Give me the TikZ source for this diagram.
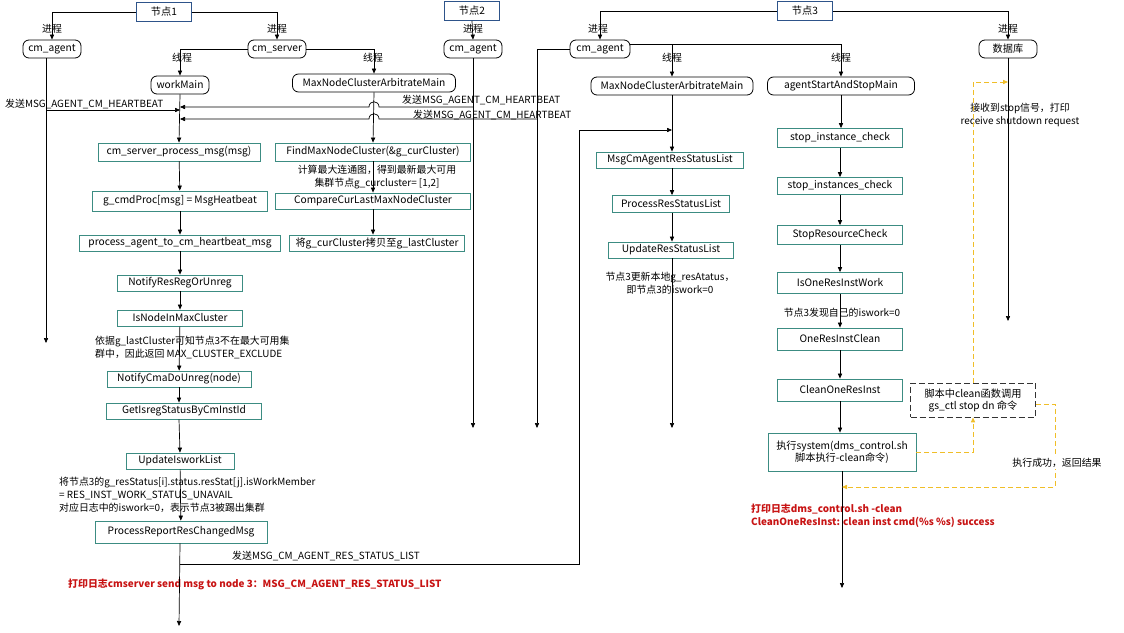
\documentclass[tikz,border=0pt]{standalone}
\usepackage{fontspec}
\setmainfont{Noto Sans CJK SC}
\usepackage{xcolor}
\usetikzlibrary{arrows.meta,positioning,calc}
\definecolor{hostblue}{RGB}{46,84,138}
\definecolor{functeal}{RGB}{60,140,130}
\definecolor{logred}{RGB}{200,20,20}
\definecolor{yelline}{RGB}{240,190,40}
\newcommand{\boxfont}{\fontsize{10.2}{12}\selectfont}
\newcommand{\lblfont}{\fontsize{9.9}{13}\selectfont}
\tikzset{
  >={Triangle[length=5pt,width=4.2pt]},
  hostbox/.style ={rectangle, draw=hostblue, line width=0.8pt, minimum width=55,
                   minimum height=19, inner sep=1pt, font=\boxfont},
  procbox/.style ={rectangle, rounded corners=6pt, draw, line width=0.8pt,
                   minimum height=18, inner sep=1pt, font=\boxfont},
  funcbox/.style ={rectangle, draw=functeal, line width=0.8pt, minimum height=16,
                   inner sep=1pt, font=\boxfont, fill=white},
  scriptbox/.style={rectangle, draw=black!80, line width=0.8pt,
                   dash pattern=on 6pt off 3pt, inner sep=1pt, font=\boxfont,
                   align=center},
  con/.style     ={->, draw, line width=0.7pt},
  yel/.style     ={->, draw=yelline, line width=0.9pt, dash pattern=on 5pt off 3pt},
  lbl/.style     ={font=\lblfont, inner sep=0pt, align=center},
  redlbl/.style  ={font=\lblfont\bfseries, text=logred, inner sep=0pt, align=left},
}

\begin{document}
\begin{tikzpicture}[x=1pt,y=-1pt]
\useasboundingbox[fill=white] (0,0) rectangle (1124,632);

% hosts and processes
\node[hostbox] (n1) at (164,12) {节点1};
\node[hostbox] (n2) at (472,11) {节点2};
\node[hostbox] (n3) at (805,11) {节点3};
\node[procbox, minimum width=58] (a1)  at (52,49)   {cm\_agent};
\node[procbox, minimum width=58] (srv) at (277,49)  {cm\_server};
\node[procbox, minimum width=58] (a2)  at (473,49)  {cm\_agent};
\node[procbox, minimum width=60] (a3)  at (600,49)  {cm\_agent};
\node[procbox, minimum width=58] (db)  at (1008,49) {数据库};
\node[lbl] (pj1) at (52,29)   {进程};
\node[lbl] (pj2) at (277,29)  {进程};
\node[lbl] (pj3) at (473,29)  {进程};
\node[lbl] (pj4) at (598,29)  {进程};
\node[lbl] (pj5) at (1008,29) {进程};

% threads
\node[procbox, minimum width=58]  (wm)  at (180,85) {workMain};
\node[procbox, minimum width=163] (mx1) at (374,83) {MaxNodeClusterArbitrateMain};
\node[procbox, minimum width=162] (mx3) at (672,86) {MaxNodeClusterArbitrateMain};
\node[procbox, minimum width=147] (ass) at (841,86) {agentStartAndStopMain};
\node[lbl] (tj1) at (182,58) {线程};
\node[lbl] (tj2) at (373,58) {线程};
\node[lbl] (tj3) at (672,58) {线程};
\node[lbl] (tj4) at (841,58) {线程};

% cm_server workMain
\node[funcbox, minimum width=162, minimum height=18] (f1) at (179,152) {cm\_server\_process\_msg(msg)};
\node[funcbox, minimum width=175, minimum height=20] (f2) at (180,201) {g\_cmdProc[msg] = MsgHeatbeat};
\node[funcbox, minimum width=201] (f3) at (180,243) {process\_agent\_to\_cm\_heartbeat\_msg};
\node[funcbox, minimum width=125] (f4) at (180,283) {NotifyResRegOrUnreg};
\node[funcbox, minimum width=125] (f5) at (180,318) {IsNodeInMaxCluster};
\node[funcbox, minimum width=144] (f6) at (179,379) {NotifyCmaDoUnreg(node)};
\node[funcbox, minimum width=155] (f7) at (184,411) {GetIsregStatusByCmInstId};
\node[funcbox, minimum width=108] (f8) at (180,461) {UpdateIsworkList};
\node[funcbox, minimum width=172, minimum height=22] (f9) at (181,532) {ProcessReportResChangedMsg};

% cm_server arbitrate thread
\node[funcbox, minimum width=195, minimum height=18] (m1) at (373,152) {FindMaxNodeCluster(\&g\_curCluster)};
\node[funcbox, minimum width=195] (m2) at (373,201) {CompareCurLastMaxNodeCluster};
\node[funcbox, minimum width=175] (m3) at (377,243) {将g\_curCluster拷贝至g\_lastCluster};

% node 3 threads
\node[funcbox, minimum width=147] (r1) at (670,160) {MsgCmAgentResStatusList};
\node[funcbox, minimum width=117, minimum height=17] (r2) at (671,204) {ProcessResStatusList};
\node[funcbox, minimum width=125] (r3) at (671,250) {UpdateResStatusList};
\node[funcbox, minimum width=125, minimum height=19] (s1) at (840,138) {stop\_instance\_check};
\node[funcbox, minimum width=125, minimum height=17] (s2) at (840,186) {stop\_instances\_check};
\node[funcbox, minimum width=125, minimum height=19] (s3) at (840,235) {StopResourceCheck};
\node[funcbox, minimum width=125, minimum height=21] (s4) at (840,283) {IsOneResInstWork};
\node[funcbox, minimum width=125, minimum height=22] (s5) at (840,339) {OneResInstClean};
\node[funcbox, minimum width=125, minimum height=22] (s6) at (840,390) {CleanOneResInst};
\node[funcbox, minimum width=148, minimum height=38, align=center] (s7) at (842,452)
  {执行system(dms\_control.sh\\脚本执行-clean命令)};
\node[scriptbox, minimum width=125, minimum height=34] (sh) at (973,400)
  {脚本中clean函数调用\\gs\_ctl stop dn 命令};

% notes
\node[lbl, anchor=west] (hb1) at (5,104)   {发送MSG\_AGENT\_CM\_HEARTBEAT};
\node[lbl, anchor=west] (hb2) at (402,100) {发送MSG\_AGENT\_CM\_HEARTBEAT};
\node[lbl, anchor=west] (hb3) at (413,115) {发送MSG\_AGENT\_CM\_HEARTBEAT};
\node[lbl] (nt1) at (377,177) {计算最大连通图，得到最新最大可用\\集群节点g\_curcluster= [1,2]};
\node[lbl, anchor=west, align=left] (nt2) at (95,348)
  {依据g\_lastCluster可知节点3不在最大可用集\\群中，因此返回 MAX\_CLUSTER\_EXCLUDE};
\node[lbl, anchor=west, align=left] (nt3) at (59,495)
  {将节点3的g\_resStatus[i].status.resStat[j].isWorkMember\\= RES\_INST\_WORK\_STATUS\_UNAVAIL\\对应日志中的iswork=0，表示节点3被踢出集群};
\node[lbl] (nt4) at (326,556) {发送MSG\_CM\_AGENT\_RES\_STATUS\_LIST};
\node[redlbl, anchor=west] (lg1) at (68,584)
  {打印日志cmserver send msg to node 3：MSG\_CM\_AGENT\_RES\_STATUS\_LIST};
\node[lbl] (nt5) at (670,283) {节点3更新本地g\_resAtatus，\\即节点3的iswork=0};
\node[lbl] (nt6) at (842,313) {节点3发现自己的iswork=0};
\node[lbl] (nt7) at (1020,115) {接收到stop信号，打印\\receive shutdown request};
\node[lbl, anchor=west, align=left] (lg2) at (751,516)
  {\textcolor{logred}{\bfseries 打印日志dms\_control.sh -clean}\\
   \textcolor{logred}{\bfseries CleanOneResInst: clean inst cmd(\%s \%s) success}};

% life line ends
\coordinate (a1end) at (46,343);
\coordinate (a2end) at (473,428);
\coordinate (a3end) at (537,428);
\coordinate (r3end) at (672,428);
\coordinate (dbend) at (1008,321);
\coordinate (f9end) at (179,626);
\coordinate (s7end) at (842,588);
\coordinate (hbA) at (46,110);
\coordinate (hbB) at (473,107);
\coordinate (hbC) at (537,119);
\coordinate (rsturn) at (579,564);
\coordinate (rsup) at (579,130);
\coordinate (a3r) at (630,44);
\coordinate (ystop) at (1008,82);
\coordinate (yret) at (1055,487);

% process and thread links
\draw[con] (n1.west) -| (a1.north);
\draw[con] (n1.east) -| (srv.north);
\draw[con] (n2.south) -- (a2.north);
\draw[con] (n3.west) -| (a3.north);
\draw[con] (n3.east) -| (db.north);
\draw[con] (srv.west) -| (wm.north);
\draw[con] (srv.east) -| (mx1.north);
\draw[con] (a3r) -| (ass.north);
\draw[con] (a3r -| mx3.north) -- (mx3.north);

% life lines
\draw[con] ([xshift=-6pt]a1.south) -- (a1end);
\draw[con] (a2.south) -- (a2end);
\draw[con] (a3.west) -| (a3end);
\draw[con] (db.south) -- (dbend);

% heartbeats
\draw[con] (hbA) -- (hbA -| wm.south);
\draw[con] (hbB) -- ($(hbB -| mx1.south)+(5,0)$)
  .. controls ($(hbB -| mx1.south)+(5,-7)$) and ($(hbB -| mx1.south)+(-5,-7)$) ..
  ($(hbB -| mx1.south)+(-5,0)$) -- (hbB -| wm.south);
\draw[con] (hbC) -- ($(hbC -| mx1.south)+(5,0)$)
  .. controls ($(hbC -| mx1.south)+(5,-7)$) and ($(hbC -| mx1.south)+(-5,-7)$) ..
  ($(hbC -| mx1.south)+(-5,0)$) -- (hbC -| wm.south);

% workMain chain
\draw[con] (wm.south) -- (f1.north);
\draw[con] (f1) -- (f2);
\draw[con] (f2) -- (f3);
\draw[con] (f3) -- (f4);
\draw[con] (f4) -- (f5);
\draw[con] (f5) -- (f6);
\draw[con] (f6.south) -- (f6.south |- f7.north);
\draw[con] (f7.south -| f6.south) -- (f8.north);
\draw[con] (f8) -- (f9);
\draw[con] (f9.south -| f8.south) -- (f9end);
\draw[con] (rsturn -| f8.south) -- (rsturn) -- (rsup) -- (rsup -| mx3.south);

% arbitrate chain
\draw[con] (mx1.south) -- (m1.north);
\draw[con] (m1) -- (m2);
\draw[con] (m2.south) -- (m2.south |- m3.north);

% node 3 chains
\draw[con] (mx3.south) -- (mx3.south |- r1.north);
\draw[con] (r1.south -| mx3.south) -- (mx3.south |- r2.north);
\draw[con] (r2.south -| mx3.south) -- (mx3.south |- r3.north);
\draw[con] (r3.south -| mx3.south) -- (r3end);
\draw[con] (ass.south) -- (ass.south |- s1.north);
\draw[con] (s1) -- (s2);
\draw[con] (s2) -- (s3);
\draw[con] (s3) -- (s4);
\draw[con] (s4) -- (s5);
\draw[con] (s5) -- (s6);
\draw[con] (s6.south) -- (s6.south |- s7.north);
\draw[con] (s7.south) -- (s7end);

% script calls
\draw[yel] (s7.east) -| (sh.south);
\draw[yel] (sh.north) |- (ystop);
\draw[yel] ([yshift=-4pt]sh.east) -| (yret) -- (yret -| s7.south);
\node[lbl, fill=white, inner sep=1pt] (nt8) at (1057,463) {执行成功，返回结果};
\end{tikzpicture}
\end{document}
